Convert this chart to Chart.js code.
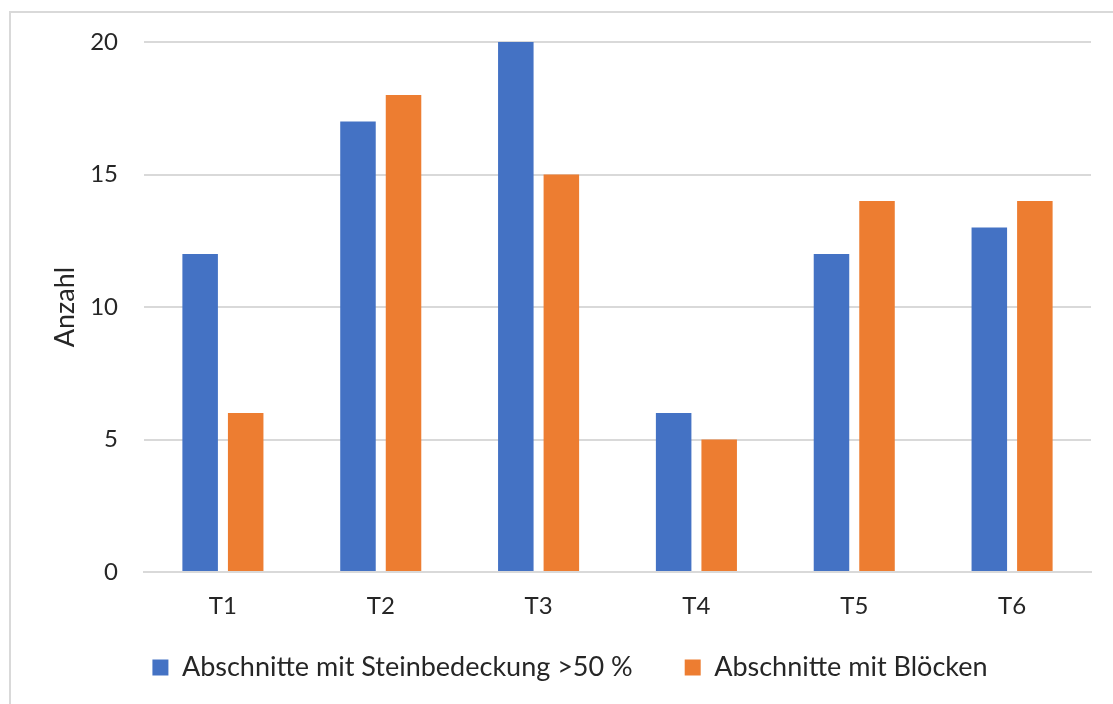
<!DOCTYPE html>
<html>
<head>
<meta charset="utf-8">
<script src="https://cdn.jsdelivr.net/npm/chart.js@4.4.1/dist/chart.umd.min.js"></script>
<style>
  html, body { margin: 0; padding: 0; background: #ffffff; }
  #wrap { width: 1113px; height: 704px; position: relative; }
</style>
</head>
<body>
<div id="wrap"><canvas id="chart" width="1113" height="704"></canvas></div>
<script>
// Abschnitte je Transekt
const categories = ['T1', 'T2', 'T3', 'T4', 'T5', 'T6'];
const steinbedeckung = [12, 17, 20, 6, 12, 13];
const bloecke = [6, 18, 15, 5, 14, 14];
const seriesNames = ['Abschnitte mit Steinbedeckung >50 %', 'Abschnitte mit Blöcken'];
const seriesColors = ['#4472C4', '#ED7D31'];
const yTicks = [0, 5, 10, 15, 20];
const yTitle = 'Anzahl';

const FONT = 'Lato, "Open Sans", sans-serif';
const TEXT = '#262626';
const GRID = '#D9D9D9';

// light frame around the chart
const framePlugin = {
  id: 'frame',
  beforeDraw(chart) {
    const ctx = chart.ctx;
    ctx.save();
    ctx.strokeStyle = GRID;
    ctx.lineWidth = 2;
    ctx.strokeRect(10, 12, 1200, 800);
    ctx.restore();
  }
};

// the category labels sit in the band shared with the legend;
// let the x scale's label area reach the bottom of the canvas
const labelBandPlugin = {
  id: 'labelBand',
  afterLayout(chart) {
    chart.scales.x.bottom = chart.height;
  }
};

new Chart(document.getElementById('chart'), {
  type: 'bar',
  data: {
    labels: categories,
    datasets: [
      { label: seriesNames[0], data: steinbedeckung, backgroundColor: seriesColors[0] },
      { label: seriesNames[1], data: bloecke, backgroundColor: seriesColors[1] }
    ]
  },
  options: {
    responsive: false,
    animation: false,
    devicePixelRatio: 1,
    categoryPercentage: 0.577,
    barPercentage: 0.78,
    layout: { padding: { left: 49, right: 22, top: 42, bottom: 13 } },
    plugins: {
      tooltip: { enabled: false },
      legend: {
        position: 'bottom',
        labels: {
          boxWidth: 16,
          boxHeight: 16,
          padding: 52,
          color: TEXT,
          font: { family: FONT, size: 27 }
        }
      }
    },
    scales: {
      x: {
        afterFit(scale) { scale.height = 30; },
        grid: { display: false, drawTicks: false },
        border: { display: true, color: GRID, width: 2 },
        ticks: { color: TEXT, font: { family: FONT, size: 24 }, padding: 20 }
      },
      y: {
        min: 0,
        max: 20,
        afterBuildTicks(scale) { scale.ticks = yTicks.map(v => ({ value: v })); },
        afterFit(scale) { scale.width = 144 - 49; },
        grid: { color: GRID, lineWidth: 2, drawTicks: false },
        border: { display: false },
        ticks: { color: TEXT, font: { family: FONT, size: 24 }, padding: 26 },
        title: {
          display: true,
          text: yTitle,
          color: TEXT,
          font: { family: FONT, size: 27 },
          padding: 0
        }
      }
    }
  },
  plugins: [framePlugin, labelBandPlugin]
});
</script>
</body>
</html>
